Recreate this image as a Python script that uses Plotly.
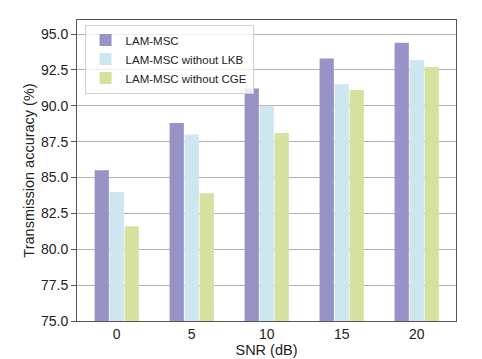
import plotly.graph_objects as go

snr = [0, 5, 10, 15, 20]
series_names = ["LAM-MSC", "LAM-MSC without LKB", "LAM-MSC without CGE"]
lam_msc = [85.5, 88.8, 91.2, 93.3, 94.4]
no_lkb = [84.0, 88.0, 90.0, 91.5, 93.2]
no_cge = [81.6, 83.9, 88.1, 91.1, 92.7]
y_ticks = [75.0, 77.5, 80.0, 82.5, 85.0, 87.5, 90.0, 92.5, 95.0]

colors = ["#9793c6", "#cde6ef", "#d5e19e"]
bar_w = 0.95
offsets = [-1, 0, 1]

fig = go.Figure()
for name, vals, c, off in zip(series_names, [lam_msc, no_lkb, no_cge], colors, offsets):
    fig.add_trace(go.Bar(
        x=[s + off for s in snr], y=vals, name=name, width=bar_w,
        marker=dict(color=c, line=dict(width=0)),
    ))

font = "Liberation Sans, Arial, sans-serif"
# page body has an 8px default margin, so the figure is sized to fit the window
fig.update_layout(
    width=474, height=351,
    margin=dict(l=69, r=26, t=12, b=38),
    paper_bgcolor="white", plot_bgcolor="white",
    barmode="overlay",
    font=dict(family=font, size=12, color="#222"),
    showlegend=True,
    legend=dict(
        x=0.02, y=0.985, xanchor="left", yanchor="top",
        bgcolor="rgba(255,255,255,0.8)", bordercolor="#d0d0d0", borderwidth=1,
        font=dict(size=11.5, color="#222"), tracegroupgap=0,
    ),
    xaxis=dict(
        range=[-2.65, 22.62], tickvals=snr, ticktext=[str(s) for s in snr],
        showgrid=False, zeroline=False, automargin=False,
        showline=True, linecolor="#555", linewidth=1, mirror=True,
        ticks="",
        tickfont=dict(size=14, color="#222"),
        title=dict(text="SNR (dB)", font=dict(size=14.5, color="#222"), standoff=0),
    ),
    yaxis=dict(
        range=[75.0, 95.98], tickvals=y_ticks, ticktext=[f"{v:.1f}" for v in y_ticks],
        showgrid=True, gridcolor="#b0b0b0", gridwidth=1, zeroline=False, automargin=False,
        showline=True, linecolor="#555", linewidth=1, mirror=True,
        ticks="outside", ticklen=5, tickcolor="#555", tickwidth=1,
        tickfont=dict(size=14, color="#222"),
        title=dict(text="Transmission accuracy (%)", font=dict(size=14.5, color="#222"), standoff=2),
    ),
)

fig.write_html("out.html")
